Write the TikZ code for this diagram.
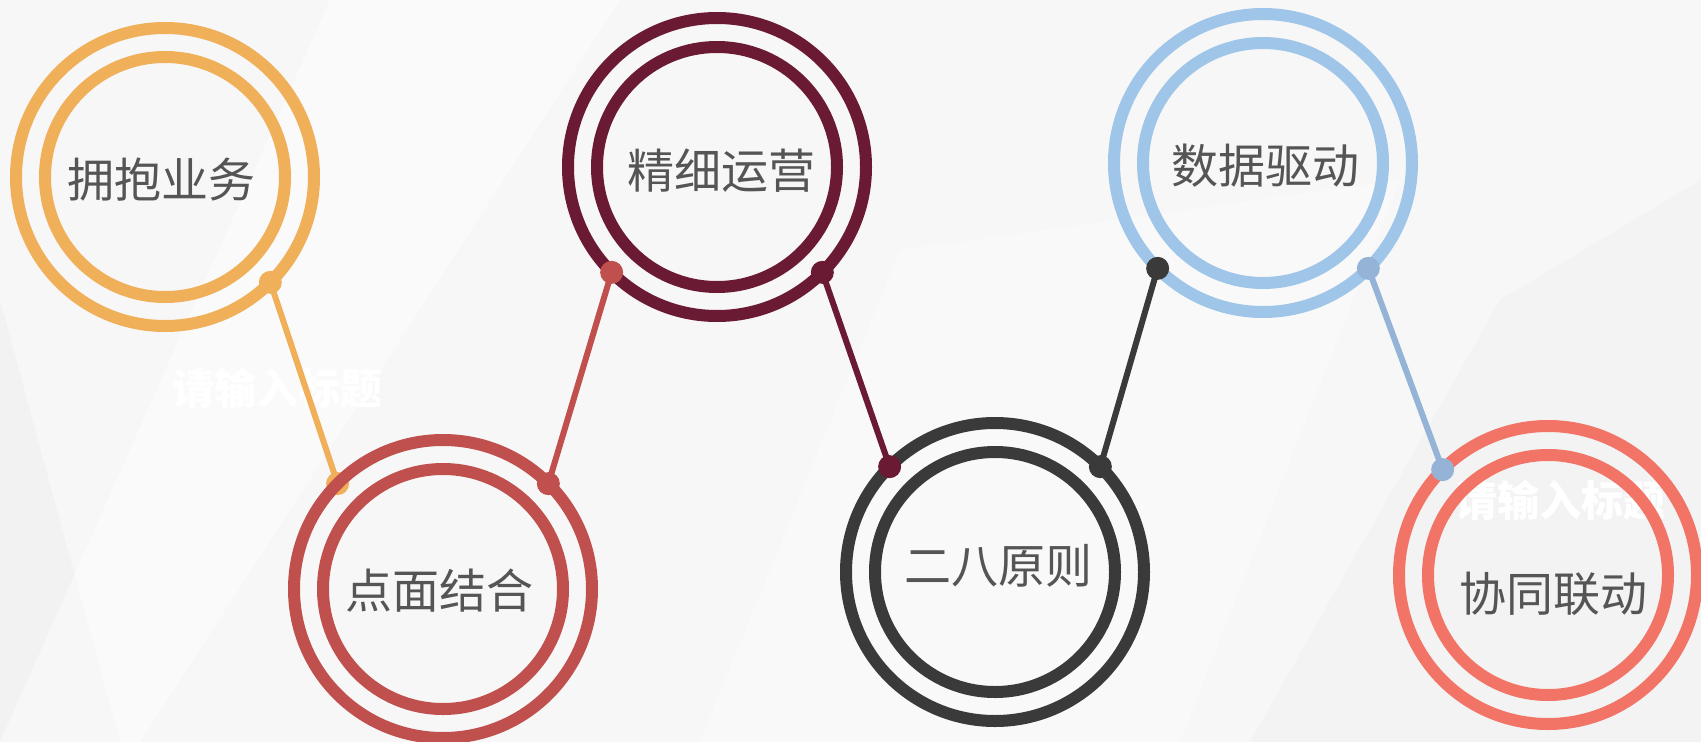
\documentclass[tikz,border=0pt]{standalone}
\usepackage{fontspec}
\newfontfamily\cjk{Noto Sans CJK SC}
\definecolor{bgGray}{HTML}{F7F7F7}
\definecolor{shadeGray}{HTML}{F0F0F0}
\definecolor{cOrange}{HTML}{F0B05A}
\definecolor{cRed}{HTML}{C0504D}
\definecolor{cMaroon}{HTML}{6A1A33}
\definecolor{cDark}{HTML}{3A3A3A}
\definecolor{cBlue}{HTML}{9FC5E8}
\definecolor{cBlueLine}{HTML}{95B3D7}
\definecolor{cSalmon}{HTML}{F27466}
\definecolor{txtGray}{HTML}{555555}

\tikzset{
  ring/.style={circle, draw=#1, line width=12pt, minimum size=298pt, inner sep=0pt, outer sep=0pt},
  inring/.style={circle, draw=#1, line width=12pt, minimum size=240pt, inner sep=0pt, outer sep=0pt},
  title/.style={font=\cjk\fontsize{47}{50}\selectfont, text=txtGray},
  faint/.style={font=\cjk\bfseries\fontsize{42}{46}\selectfont, text=white},
  link/.style={draw=#1, line width=6pt},
  dot/.style={fill=#1}
}

\begin{document}
\begin{tikzpicture}[x=1pt,y=-1pt]
\useasboundingbox (0,0) rectangle (1701,742);
\fill[bgGray] (0,0) rectangle (1701,742);
% faint background shapes
\fill[shadeGray, opacity=0.6] (0,300) -- (120,742) -- (0,742) -- cycle;
\fill[white, opacity=0.4] (330,0) -- (620,0) -- (140,742) -- (0,742) -- cycle;
\fill[shadeGray, opacity=0.5] (1500,300) -- (1701,180) -- (1701,742) -- (1250,742) -- cycle;
\fill[white, opacity=0.3] (900,250) -- (1400,180) -- (1180,742) -- (700,742) -- cycle;
\node[faint] (w1) at (277,388) {请输入标题};
\node[faint] (w2) at (1560,500) {请输入标题};

% top row
\node[ring=cOrange] (c1) at (165,177) {};
\node[inring=cOrange] (i1) at (165,177) {};
\node[ring=cMaroon] (c3) at (717,167) {};
\node[inring=cMaroon] (i3) at (717,167) {};
\node[ring=cBlue] (c5) at (1263,163) {};
\node[inring=cBlue] (i5) at (1263,163) {};

% links into the bottom row
\coordinate (e1) at (337.6,483.6);
\draw[link=cOrange] (c1.-45) -- (e1);
\fill[dot=cOrange] (c1.-45) circle (11.5pt);
\fill[dot=cOrange] (e1) circle (11.5pt);

\node[ring=cRed] (c2) at (443,589) {};
\node[inring=cRed] (i2) at (443,589) {};
\node[ring=cDark] (c4) at (995,572) {};
\node[inring=cDark] (i4) at (995,572) {};
\node[ring=cSalmon] (c6) at (1548,575) {};
\node[inring=cSalmon] (i6) at (1548,575) {};

\draw[link=cRed] (c2.45) -- (c3.-135);
\fill[dot=cRed] (c2.45) circle (11.5pt);
\fill[dot=cRed] (c3.-135) circle (11.5pt);

\draw[link=cMaroon] (c3.-45) -- (c4.135);
\fill[dot=cMaroon] (c3.-45) circle (11.5pt);
\fill[dot=cMaroon] (c4.135) circle (11.5pt);

\draw[link=cDark] (c4.45) -- (c5.-135);
\fill[dot=cDark] (c4.45) circle (11.5pt);
\fill[dot=cDark] (c5.-135) circle (11.5pt);

\draw[link=cBlueLine] (c5.-45) -- (c6.135);
\fill[dot=cBlueLine] (c5.-45) circle (11.5pt);
\fill[dot=cBlueLine] (c6.135) circle (11.5pt);

% titles
\node[title] (t1) at (161,180) {拥抱业务};
\node[title] (t2) at (439,591) {点面结合};
\node[title] (t3) at (721,171) {精细运营};
\node[title] (t4) at (998,566) {二八原则};
\node[title] (t5) at (1265,166) {数据驱动};
\node[title] (t6) at (1553,594) {协同联动};
\end{tikzpicture}
\end{document}
